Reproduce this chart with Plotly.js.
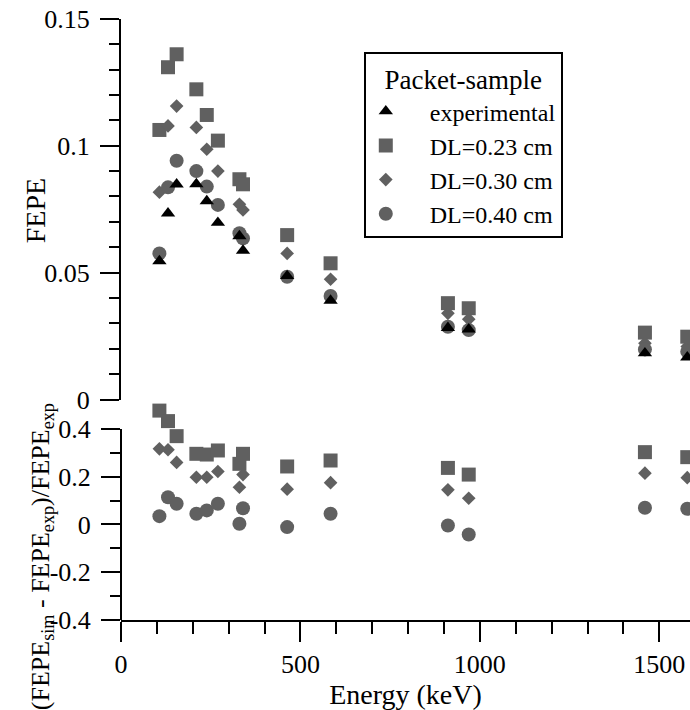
<!DOCTYPE html>
<html>
<head>
<meta charset="utf-8">
<script src="https://cdn.plot.ly/plotly-3.0.1.min.js"></script>
<style>html,body{margin:0;padding:0;background:#fff;}#chart{width:690px;height:710px;}</style>
</head>
<body>
<div id="chart"></div>
<script>
// Energies (keV)
const energy = [107, 131, 155, 210, 239, 270, 330, 340, 463, 584, 911, 969, 1460, 1578];

// FEPE values (top panel)
const fepeExp  = [0.0546, 0.0734, 0.0848, 0.0849, 0.0782, 0.0697, 0.0644, 0.0587, 0.0487, 0.0390, 0.0283, 0.0277, 0.0183, 0.0167];
const fepeDL023 = [0.1062, 0.1309, 0.1360, 0.1222, 0.1121, 0.1020, 0.0868, 0.0848, 0.0648, 0.0537, 0.0380, 0.0360, 0.0264, 0.0248];
const fepeDL030 = [0.0817, 0.1078, 0.1156, 0.1072, 0.0986, 0.0900, 0.0769, 0.0747, 0.0576, 0.0474, 0.0340, 0.0317, 0.0222, 0.0209];
const fepeDL040 = [0.0576, 0.0836, 0.0941, 0.0900, 0.0839, 0.0767, 0.0655, 0.0635, 0.0484, 0.0408, 0.0287, 0.0274, 0.0198, 0.0189];

// Relative deviations (bottom panel)
const relDL023 = [0.477, 0.433, 0.370, 0.296, 0.293, 0.310, 0.254, 0.296, 0.243, 0.268, 0.237, 0.209, 0.303, 0.282];
const relDL030 = [0.317, 0.313, 0.260, 0.198, 0.198, 0.222, 0.156, 0.209, 0.148, 0.175, 0.145, 0.110, 0.215, 0.196];
const relDL040 = [0.035, 0.114, 0.087, 0.045, 0.059, 0.087, 0.003, 0.068, -0.011, 0.045, -0.004, -0.042, 0.070, 0.066];

const seriesNames = ['experimental', 'DL=0.23 cm', 'DL=0.30 cm', 'DL=0.40 cm'];
const legendTitle = 'Packet-sample';
const xTickVals = [0, 500, 1000, 1500];
const yTopTickVals = [0, 0.05, 0.1, 0.15];
const yTopTickText = ['0', '0.05', '0.1', '0.15'];
const yBotTickVals = [-0.4, -0.2, 0, 0.2, 0.4];
const yBotTickText = ['-0.4', '-0.2', '0', '0.2', '0.4'];
const yBotAxisSpan = [-0.4, 0.4];

const FONT = 'Liberation Serif';
const GRAY = '#606060';
const PAD = '\u00A0\u00A0\u00A0\u00A0';

function mk(x, y, name, symbol, size, color, yaxis, showlegend, rank) {
  return {
    x: x, y: y, name: PAD + name, type: 'scatter', mode: 'markers',
    xaxis: 'x', yaxis: yaxis, showlegend: showlegend, legendrank: rank,
    cliponaxis: false,
    marker: {symbol: symbol, size: size, color: color, line: {width: 0}}
  };
}

const data = [
  mk(energy, fepeDL023, seriesNames[1], 'square', 14, GRAY, 'y', true, 2),
  mk(energy, fepeDL030, seriesNames[2], 'diamond', 10.5, GRAY, 'y', true, 3),
  mk(energy, fepeDL040, seriesNames[3], 'circle', 14, GRAY, 'y', true, 4),
  mk(energy, fepeExp, seriesNames[0], 'triangle-up', 12.5, '#000000', 'y', true, 1),
  mk(energy, relDL023, seriesNames[1], 'square', 14, GRAY, 'y2', false, 2),
  mk(energy, relDL030, seriesNames[2], 'diamond', 10.5, GRAY, 'y2', false, 3),
  mk(energy, relDL040, seriesNames[3], 'circle', 14, GRAY, 'y2', false, 4)
];

const axisCommon = {
  showline: true, linecolor: '#000', linewidth: 2, mirror: false,
  ticks: 'outside', tickcolor: '#000', tickwidth: 2,
  showgrid: false, zeroline: false,
  tickfont: {family: FONT, size: 26, color: '#000'}
};

const layout = {
  width: 690, height: 710,
  margin: {l: 121, r: 0, t: 18, b: 90},
  paper_bgcolor: '#fff', plot_bgcolor: '#fff',
  font: {family: FONT, color: '#000', size: 24},
  showlegend: true,
  legend: {
    x: 0.4267, y: 0.9435, xanchor: 'left', yanchor: 'top',
    bgcolor: '#fff', bordercolor: '#000', borderwidth: 2,
    font: {family: FONT, size: 24, color: '#000'},
    title: {text: legendTitle, side: 'top center', font: {family: FONT, size: 27, color: '#000'}},
    traceorder: 'normal'
  },
  xaxis: Object.assign({}, axisCommon, {
    domain: [0, 1], range: [0, 1585.6], anchor: 'y2',
    tickvals: xTickVals, ticklen: 20,
    minor: {dtick: 100, tick0: 0, ticks: 'outside', ticklen: 12, tickwidth: 2, tickcolor: '#000'},
    title: {text: 'Energy (keV)', font: {family: FONT, size: 28, color: '#000'}, standoff: 0}
  }),
  yaxis: Object.assign({}, axisCommon, {
    domain: [0.366, 0.9988], range: [0, 0.15], anchor: 'x',
    tickvals: yTopTickVals, ticktext: yTopTickText, ticklen: 19, ticklabelstandoff: 5,
    minor: {dtick: 0.01, tick0: 0, ticks: 'outside', ticklen: 10, tickwidth: 2, tickcolor: '#000'}
  }),
  yaxis2: Object.assign({}, axisCommon, {
    showline: false,
    domain: [0, 0.353], range: [-0.4, 0.49], anchor: 'x',
    tickvals: yBotTickVals, ticktext: yBotTickText, ticklen: 19, ticklabelstandoff: 5,
    minor: {dtick: 0.1, tick0: 0, ticks: 'outside', ticklen: 10, tickwidth: 2, tickcolor: '#000'}
  }),
  shapes: [
    {type: 'line', xref: 'paper', yref: 'y2', x0: 0, x1: 0,
     y0: yBotAxisSpan[0], y1: yBotAxisSpan[1], line: {color: '#000', width: 2}, layer: 'above'}
  ],
  annotations: [
    {text: 'FEPE', xref: 'paper', yref: 'paper', x: -0.15, y: 0.68,
     xanchor: 'center', yanchor: 'middle', textangle: -90, showarrow: false,
     font: {family: FONT, size: 28, color: '#000'}},
    {text: '(FEPE<sub>sim</sub> - FEPE<sub>exp</sub>)/FEPE<sub>exp</sub>', xref: 'paper', yref: 'paper',
     x: -0.14, y: 0.105, xanchor: 'center', yanchor: 'middle', textangle: -90, showarrow: false,
     font: {family: FONT, size: 26, color: '#000'}}
  ]
};

Plotly.newPlot('chart', data, layout, {staticPlot: true, displayModeBar: false});
</script>
</body>
</html>
